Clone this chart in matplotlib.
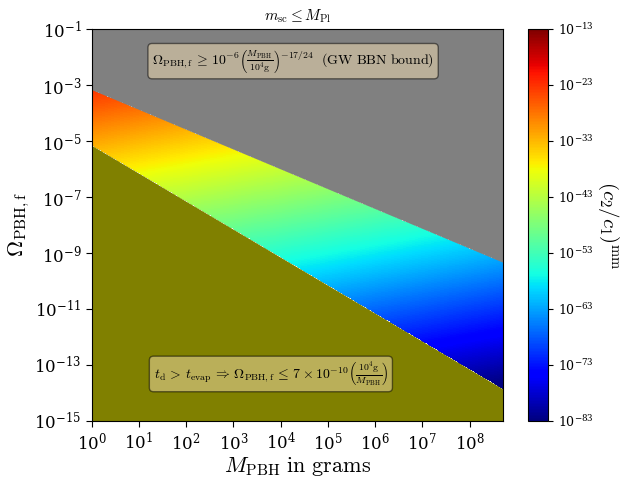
import numpy as np
import matplotlib
matplotlib.use('Agg')
import matplotlib.pyplot as plt
from matplotlib.colors import LogNorm

plt.rcParams['mathtext.fontset'] = 'cm'
plt.rcParams['font.family'] = 'serif'
plt.rcParams['font.serif'] = ['DejaVu Serif']

# axis ranges
M_min, M_max = 1e0, 5e8
Om_min, Om_max = 1e-15, 1e-1

# bound parameters (from the annotations)
bbn_amp, bbn_M0, bbn_exp = 1e-6, 1e4, -17/24
evap_amp, evap_M0 = 7e-10, 1e4

# colour values: log10 M, log10 Omega, log10 (c2/c1)^mm
anchor_logM = [0.0, 0.0, 1.6, 6.8, 8.7, 8.7]
anchor_logOm = [-3.17, -5.15, -6.75, -7.98, -9.35, -13.85]
anchor_logC = [-25, -33, -39, -53, -64, -85]

cbar_ticks = [1e-13, 1e-23, 1e-33, 1e-43, 1e-53, 1e-63, 1e-73, 1e-83]

M = np.logspace(np.log10(M_min), np.log10(M_max), 700)
Om = np.logspace(np.log10(Om_min), np.log10(Om_max), 700)
upper = bbn_amp*(M/bbn_M0)**bbn_exp
lower = evap_amp*(evap_M0/M)

# plane through the anchor values in log space
A = np.column_stack([np.ones(len(anchor_logM)), anchor_logM, anchor_logOm])
coef = np.linalg.lstsq(A, np.array(anchor_logC, float), rcond=None)[0]
MM, OO = np.meshgrid(M, Om)
logC = coef[0] + coef[1]*np.log10(MM) + coef[2]*np.log10(OO)
C = 10.0**logC
up = bbn_amp*(MM/bbn_M0)**bbn_exp
lo = evap_amp*(evap_M0/MM)
C = np.ma.masked_where((OO > up) | (OO < lo), C)

fig = plt.figure(figsize=(6.27, 4.78), dpi=100)
ax = fig.add_axes([91.7/627, 1-421/478, 411/627, 392/478])
cax = fig.add_axes([528/627, 1-421/478, 20/627, 392/478])

pc = ax.pcolormesh(M, Om, C, cmap='jet', norm=LogNorm(vmin=1e-83, vmax=1e-13),
                   shading='auto', rasterized=True)
ax.fill_between(M, upper, Om_max, color='gray', lw=0)
ax.fill_between(M, Om_min, lower, color='olive', lw=0)
ax.set_xscale('log')
ax.set_yscale('log')
ax.set_xlim(M_min, M_max)
ax.set_ylim(Om_min, Om_max)
ax.set_xticks([10.0**k for k in range(9)])
ax.set_yticks([10.0**k for k in range(-15, 0, 2)])
ax.minorticks_off()
ax.tick_params(labelsize=12, direction='out', length=4)

ax.set_xlabel(r'$M_{\rm PBH}\ \mathrm{in\ grams}$', fontsize=16, labelpad=1)
ax.set_ylabel(r'$\Omega_{\rm PBH,f}$', fontsize=16, labelpad=2)
ax.set_title(r'$m_{\rm sc} \leq M_{\rm Pl}$', fontsize=11)

box = dict(boxstyle='round', facecolor='wheat', alpha=0.5)
ax.text(0.49, 0.918,
        r'$\Omega_{\rm PBH,f}\,\geq\,10^{-6}\left(\frac{M_{\rm PBH}}{10^4 {\rm g}}\right)^{-17/24}\ \ \mathrm{(GW\ BBN\ bound)}$',
        transform=ax.transAxes, ha='center', va='center', fontsize=10, bbox=box)
ax.text(0.436, 0.12,
        r'$t_{\rm d}\,>\,t_{\rm evap}\,\Rightarrow\,\Omega_{\rm PBH,f}\,\leq\,7\times10^{-10}\left(\frac{10^4 {\rm g}}{M_{\rm PBH}}\right)$',
        transform=ax.transAxes, ha='center', va='center', fontsize=10, bbox=box)

cb = fig.colorbar(pc, cax=cax, ticks=cbar_ticks)
cb.ax.minorticks_off()
cb.ax.tick_params(labelsize=9)
cb.set_label(r'$\left(c_2/c_1\right)^{\rm mm}$', fontsize=15, rotation=270, labelpad=20)

fig.savefig('out.png', dpi=100)
